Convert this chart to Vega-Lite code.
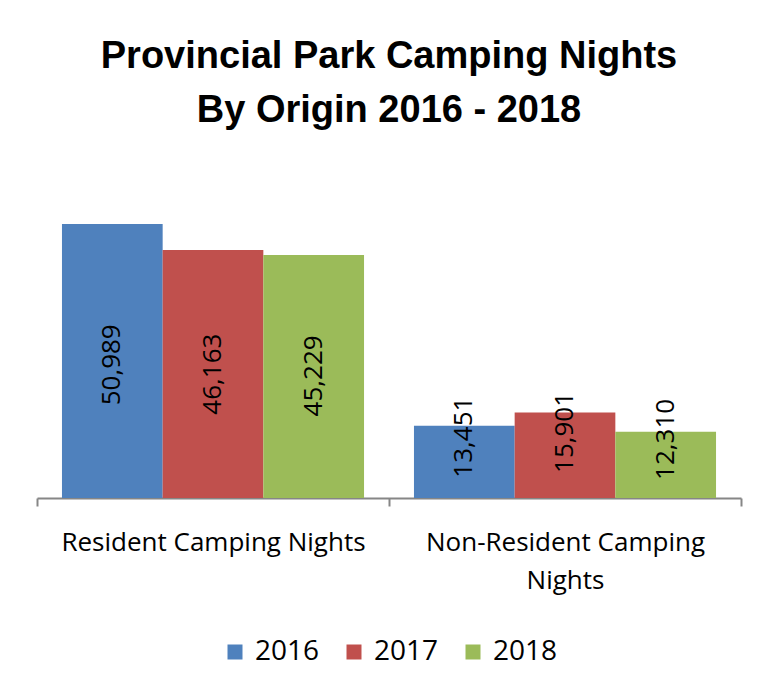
{
  "$schema": "https://vega.github.io/schema/vega-lite/v6.json",
  "width": 704,
  "height": 348,
  "autosize": {"type": "none"},
  "padding": {"left": 37, "top": 150, "right": 37, "bottom": 202},
  "background": "white",
  "title": {
    "text": ["Provincial Park Camping Nights", "By Origin 2016 - 2018"],
    "font": "Liberation Sans",
    "fontSize": 38,
    "fontWeight": "bold",
    "color": "black",
    "lineHeight": 54,
    "anchor": "middle",
    "frame": "group",
    "offset": 20
  },
  "config": {
    "view": {"stroke": null},
    "legend": {"layout": {"bottom": {"anchor": "middle"}}}
  },
  "data": {
    "values": [
      {"category": "Resident Camping Nights", "year": "2016", "nights": 50989},
      {"category": "Resident Camping Nights", "year": "2017", "nights": 46163},
      {"category": "Resident Camping Nights", "year": "2018", "nights": 45229},
      {"category": "Non-Resident Camping Nights", "year": "2016", "nights": 13451},
      {"category": "Non-Resident Camping Nights", "year": "2017", "nights": 15901},
      {"category": "Non-Resident Camping Nights", "year": "2018", "nights": 12310}
    ]
  },
  "encoding": {
    "x": {
      "field": "category",
      "type": "nominal",
      "sort": ["Resident Camping Nights", "Non-Resident Camping Nights"],
      "scale": {"paddingInner": 0, "paddingOuter": 0},
      "axis": {
        "title": null,
        "labelAngle": 0,
        "tickBand": "extent",
        "domainColor": "#868686",
        "domainWidth": 2,
        "tickColor": "#868686",
        "tickWidth": 2,
        "tickSize": 8,
        "labelFont": "Open Sans",
        "labelFontSize": 26,
        "labelColor": "black",
        "labelPadding": 23,
        "labelLineHeight": 38,
        "labelBaseline": "top",
        "labelLimit": 0,
        "labelExpr": "datum.label == 'Non-Resident Camping Nights' ? ['Non-Resident Camping', 'Nights'] : datum.label"
      }
    },
    "xOffset": {
      "field": "year",
      "type": "nominal",
      "scale": {"paddingOuter": 0.248, "paddingInner": 0}
    }
  },
  "layer": [
    {
      "mark": {"type": "bar"},
      "encoding": {
        "y": {
          "field": "nights",
          "type": "quantitative",
          "scale": {"domain": [0, 64770], "nice": false, "zero": true},
          "axis": null
        },
        "color": {
          "field": "year",
          "type": "nominal",
          "scale": {"domain": ["2016", "2017", "2018"], "range": ["#4F81BD", "#C0504D", "#9BBB59"]},
          "legend": {
            "title": null,
            "orient": "bottom",
            "direction": "horizontal",
            "symbolType": "square",
            "symbolSize": 225,
            "symbolStrokeWidth": 0,
            "labelFont": "Open Sans",
            "labelFontSize": 28,
            "labelColor": "black",
            "labelOffset": 6,
            "columnPadding": 20,
            "offset": 45
          }
        }
      }
    },
    {
      "mark": {"type": "text", "angle": 270, "align": "center", "baseline": "middle", "font": "Open Sans", "fontSize": 26, "color": "black"},
      "encoding": {
        "y": {
          "field": "nights",
          "type": "quantitative",
          "scale": {"domain": [-18102, 162396], "nice": false, "zero": false},
          "axis": null
        },
        "text": {"field": "nights", "type": "quantitative", "format": ","}
      }
    }
  ],
  "resolve": {"scale": {"y": "independent"}}
}
